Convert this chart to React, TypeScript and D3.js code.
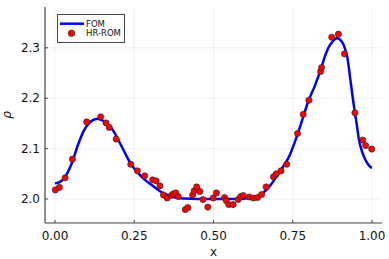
import React from "react";
import * as d3 from "d3";

// FOM curve samples
const fomX = [0.0, 0.016, 0.032, 0.053, 0.074, 0.095, 0.116, 0.137, 0.158, 0.179, 0.2, 0.221, 0.242, 0.263, 0.284, 0.305, 0.33, 0.355, 0.38, 0.41, 0.45, 0.5, 0.55, 0.6, 0.63, 0.652, 0.673, 0.694, 0.715, 0.736, 0.757, 0.778, 0.799, 0.82, 0.841, 0.852, 0.868, 0.889, 0.904, 0.92, 0.931, 0.941, 0.952, 0.962, 0.978, 0.994, 1.0];
const fomY = [2.031, 2.034, 2.044, 2.071, 2.11, 2.14, 2.155, 2.159, 2.153, 2.14, 2.117, 2.091, 2.067, 2.051, 2.038, 2.028, 2.016, 2.008, 2.003, 2.001, 2.0, 2.0, 2.0, 2.001, 2.004, 2.01, 2.022, 2.04, 2.06, 2.081, 2.114, 2.153, 2.194, 2.225, 2.262, 2.284, 2.306, 2.319, 2.313, 2.287, 2.24, 2.193, 2.147, 2.108, 2.079, 2.064, 2.062];

// HR-ROM points
const romX = [0.001, 0.014, 0.032, 0.055, 0.1, 0.144, 0.161, 0.171, 0.193, 0.239, 0.26, 0.283, 0.308, 0.319, 0.331, 0.342, 0.354, 0.367, 0.373, 0.381, 0.389, 0.411, 0.419, 0.434, 0.439, 0.447, 0.457, 0.467, 0.482, 0.499, 0.509, 0.535, 0.54, 0.548, 0.562, 0.578, 0.586, 0.594, 0.613, 0.626, 0.639, 0.652, 0.666, 0.689, 0.698, 0.713, 0.731, 0.765, 0.783, 0.801, 0.838, 0.841, 0.873, 0.894, 0.913, 0.946, 0.971, 0.98, 0.999];
const romY = [2.018, 2.023, 2.042, 2.079, 2.153, 2.163, 2.151, 2.142, 2.119, 2.069, 2.056, 2.046, 2.038, 2.036, 2.026, 2.008, 2.002, 2.007, 2.01, 2.012, 2.005, 1.979, 1.983, 2.008, 2.016, 2.024, 2.015, 1.999, 1.984, 2.002, 2.012, 2.003, 1.997, 1.989, 1.989, 1.999, 2.005, 2.007, 2.004, 2.002, 2.003, 2.009, 2.024, 2.044, 2.05, 2.056, 2.069, 2.13, 2.168, 2.196, 2.253, 2.261, 2.321, 2.327, 2.288, 2.171, 2.117, 2.106, 2.099];

const xTicks = [0, 0.25, 0.5, 0.75, 1.0];
const yTicks = [2.0, 2.1, 2.2, 2.3];

export default function App() {
  const width = 389;
  const height = 259;
  const left = 45, right = 382, top = 7, bottom = 223;

  const xScale = d3.scaleLinear().domain([-0.0315, 1.0315]).range([left, right]);
  const yScale = d3.scaleLinear().domain([1.9524, 2.381]).range([bottom, top]);

  const fom = fomX.map((x, i) => [x, fomY[i]] as [number, number]);
  const line = d3.line<[number, number]>()
    .x((d) => xScale(d[0]))
    .y((d) => yScale(d[1]))
    .curve(d3.curveCatmullRom);

  const font = "DejaVu Sans, sans-serif";

  return (
    <div>
      <style>{`body{margin:0}`}</style>
      <svg width={width} height={height} style={{ display: "block" }}>
        <rect width={width} height={height} fill="white" />
        {/* grid */}
        {xTicks.map((t) => (
          <line key={"gx" + t} x1={xScale(t)} x2={xScale(t)} y1={top} y2={bottom} stroke="#000" strokeOpacity={0.08} strokeWidth={0.8} />
        ))}
        {yTicks.map((t) => (
          <line key={"gy" + t} x1={left} x2={right} y1={yScale(t)} y2={yScale(t)} stroke="#000" strokeOpacity={0.08} strokeWidth={0.8} />
        ))}
        {/* axes */}
        <line x1={left} x2={left} y1={top} y2={bottom} stroke="#444" strokeWidth={1.2} />
        <line x1={left} x2={right} y1={bottom} y2={bottom} stroke="#444" strokeWidth={1.2} />
        {xTicks.map((t) => (
          <g key={"tx" + t}>
            <line x1={xScale(t)} x2={xScale(t)} y1={bottom} y2={bottom - 3} stroke="#444" strokeWidth={1} />
            <text x={xScale(t)} y={bottom + 17} textAnchor="middle" fontSize={12} fontFamily={font} fill="#111">
              {d3.format(".2f")(t)}
            </text>
          </g>
        ))}
        {yTicks.map((t) => (
          <g key={"ty" + t}>
            <line x1={left} x2={left + 3} y1={yScale(t)} y2={yScale(t)} stroke="#444" strokeWidth={1} />
            <text x={left - 5} y={yScale(t)} dy="0.35em" textAnchor="end" fontSize={12} fontFamily={font} fill="#111">
              {d3.format(".1f")(t)}
            </text>
          </g>
        ))}
        <text x={(left + right) / 2} y={256} textAnchor="middle" fontSize={12} fontFamily={font} fill="#111">x</text>
        <text transform={`translate(11,${(top + bottom) / 2}) rotate(-90)`} textAnchor="middle" fontSize={12} fontStyle="italic" fontFamily={font} fill="#111">ρ</text>

        {/* FOM line */}
        <path d={line(fom) ?? ""} fill="none" stroke="#0000ff" strokeWidth={2.5} />
        {/* HR-ROM points */}
        {romX.map((x, i) => (
          <circle key={i} cx={xScale(x)} cy={yScale(romY[i])} r={3.1} fill="#ff0000" stroke="#222" strokeWidth={0.6} />
        ))}

        {/* legend */}
        <rect x={57.5} y={14.5} width={67} height={28} fill="white" stroke="#444" strokeWidth={1} />
        <line x1={60} x2={84} y1={23.7} y2={23.7} stroke="#0000ff" strokeWidth={2.5} />
        <text x={86} y={23.7} dy="0.35em" fontSize={8.5} fontFamily={font} fill="#111">FOM</text>
        <circle cx={71.5} cy={33.3} r={3.3} fill="#ff0000" stroke="#222" strokeWidth={0.6} />
        <text x={86} y={33.3} dy="0.35em" fontSize={8.5} fontFamily={font} fill="#111">HR-ROM</text>
      </svg>
    </div>
  );
}
